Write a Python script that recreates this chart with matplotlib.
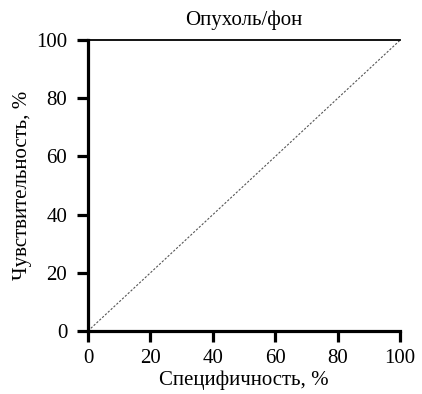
import matplotlib.pyplot as plt

# ROC curve: 100 - specificity vs sensitivity
SPEC = [0, 0, 100]
SENS = [0, 100, 100]
DIAG = [0, 100]
XTICKS = [0, 20, 40, 60, 80, 100]
YTICKS = [0, 20, 40, 60, 80, 100]

plt.rcParams['font.family'] = ['Liberation Serif', 'DejaVu Serif']

fig = plt.figure(figsize=(4.22, 3.94), dpi=100)
ax = fig.add_axes([0.2085, 0.16, 0.7395, 0.738])

ax.plot(DIAG, DIAG, color='#555555', lw=0.8, ls=(0, (2, 1.5)))
ax.plot(SPEC, SENS, color='black', lw=1.3, clip_on=False)

ax.set_xlim(0, 100)
ax.set_ylim(0, 100)
ax.set_xticks(XTICKS)
ax.set_yticks(YTICKS)
for s in ['top', 'right']:
    ax.spines[s].set_visible(False)
for s in ['left', 'bottom']:
    ax.spines[s].set_linewidth(2.3)
ax.tick_params(direction='out', length=8, width=2.3, labelsize=15)
ax.tick_params(axis='x', pad=5)
ax.tick_params(axis='y', pad=7)

ax.set_title('Опухоль/фон', fontsize=15, pad=11)
ax.set_xlabel('Специфичность, %', fontsize=15, labelpad=2)
ax.set_ylabel('Чувствительность, %', fontsize=15, labelpad=3)

fig.savefig('out.png', dpi=100)
